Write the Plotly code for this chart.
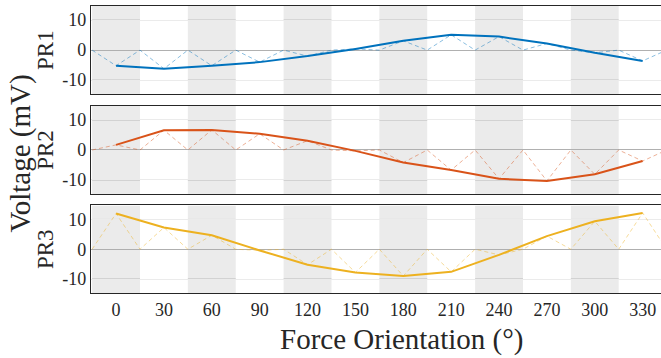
import plotly.graph_objects as go

ANGLES = [0, 30, 60, 90, 120, 150, 180, 210, 240, 270, 300, 330]
PR1 = [-5.2, -6.2, -5.2, -4.0, -2.0, 0.4, 3.1, 5.1, 4.5, 2.2, -0.9, -3.6]
PR2 = [1.7, 6.6, 6.7, 5.4, 3.1, -0.3, -4.2, -6.7, -9.6, -10.3, -8.1, -3.7]
PR3 = [12.0, 7.3, 4.7, -0.4, -5.2, -7.8, -9.0, -7.6, -1.9, 4.4, 9.4, 12.2]
SERIES = [("PR1", PR1, "#0072BD"), ("PR2", PR2, "#D95319"), ("PR3", PR3, "#EDB120")]
YTICKS = [-10, 0, 10]
YTICKTEXT = ["-10", "0", "10"]
BAND_CENTERS = [0, 60, 120, 180, 240, 300]
BAND_HALF = 15
XRANGE = [-15.7, 341.5]
YRANGE = [-14.7, 14.7]

FONT = "Liberation Serif, Times New Roman, serif"
domains = [[0.6926, 1.0], [0.3446, 0.652], [0.0, 0.305]]

W, H = 661, 358
ML, MR, MT, MB = 91, 0, 6, 65
PW, PH = W - ML - MR, H - MT - MB


def px_x(px):
    return (px - ML) / PW


def px_y(py):
    return (H - MB - py) / PH


fig = go.Figure()
shapes = []
for i, (name, vals, color) in enumerate(SERIES):
    ax = "" if i == 0 else str(i + 1)
    step = ANGLES[1] - ANGLES[0]
    dx, dy = [ANGLES[0] - step / 2], [0]
    for a, v in zip(ANGLES, vals):
        dx += [a, a + step / 2]
        dy += [v, 0]
    fig.add_trace(go.Scatter(x=dx, y=dy, mode="lines", xaxis="x" + ax, yaxis="y" + ax,
                             line=dict(color=color, width=1, dash="4px,3px"), opacity=0.45,
                             showlegend=False, hoverinfo="skip"))
    fig.add_trace(go.Scatter(x=ANGLES, y=vals, mode="lines", xaxis="x" + ax, yaxis="y" + ax,
                             line=dict(color=color, width=2), showlegend=False, name=name))
    for c in BAND_CENTERS:
        shapes.append(dict(type="rect", xref="x" + ax, yref="y" + ax,
                           x0=c - BAND_HALF, x1=c + BAND_HALF, y0=YRANGE[0], y1=YRANGE[1],
                           fillcolor="#ebebeb", line_width=0, layer="below"))
        for t in YTICKS:
            if t != 0:
                shapes.append(dict(type="line", xref="x" + ax, yref="y" + ax,
                                   x0=c - BAND_HALF, x1=c + BAND_HALF, y0=t, y1=t,
                                   line=dict(color="#b8b8b8", width=1), layer="below"))

layout = dict(
    width=W, height=H,
    margin=dict(l=ML, r=MR, t=MT, b=MB),
    plot_bgcolor="white", paper_bgcolor="white",
    font=dict(family=FONT, color="#262626"),
    shapes=shapes,
)
for i, (name, vals, color) in enumerate(SERIES):
    ax = "" if i == 0 else str(i + 1)
    last = i == 2
    layout["xaxis" + ax] = dict(
        domain=[0, 1], anchor="y" + ax, range=XRANGE, tickvals=ANGLES,
        showticklabels=last, ticks="", showgrid=False, zeroline=False, automargin=False,
        showline=True, mirror=True, linecolor="#262626", linewidth=1.2,
        tickfont=dict(size=18, family=FONT, color="#262626"),
    )
    layout["yaxis" + ax] = dict(
        domain=domains[i], anchor="x" + ax, range=YRANGE, automargin=False,
        tickvals=YTICKS, ticktext=YTICKTEXT, ticks="",
        showgrid=True, gridcolor="#ebebeb", gridwidth=1,
        zeroline=True, zerolinecolor="#b0b0b0", zerolinewidth=1,
        showline=True, linecolor="#262626", linewidth=1.2,
        tickfont=dict(size=18, family=FONT, color="#262626"),
        title=dict(text=name, font=dict(size=23, family=FONT, color="#262626"), standoff=2),
    )
layout["annotations"] = [
    dict(text="Voltage (mV)", x=px_x(20), xref="paper", y=px_y(153.5), yref="paper",
         xanchor="center", yanchor="middle", showarrow=False, textangle=-90,
         font=dict(size=29, family=FONT, color="#262626")),
    dict(text="Force Orientation (°)", x=px_x(402), xref="paper", y=px_y(339), yref="paper",
         xanchor="center", yanchor="middle", showarrow=False,
         font=dict(size=29, family=FONT, color="#262626")),
]
fig.update_layout(**layout)
fig.write_html("out.html", config={"displayModeBar": False},
               post_script="document.body.style.margin='0';document.body.style.overflow='hidden';")
